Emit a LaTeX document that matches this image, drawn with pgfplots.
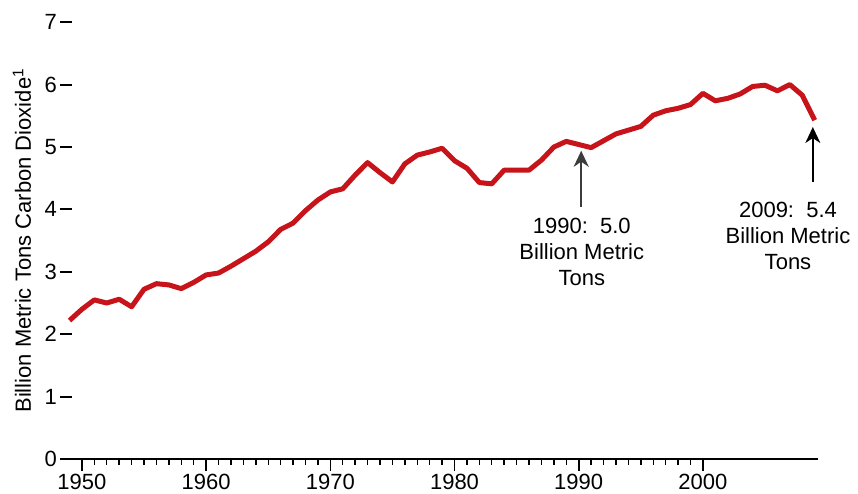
\documentclass[border=0pt]{standalone}
\usepackage{pgfplots}
\pgfplotsset{compat=1.18}
\usepackage{fontspec}
\setmainfont{Liberation Sans}
\usetikzlibrary{arrows.meta}
\definecolor{co2red}{RGB}{198,20,26}
\definecolor{arrowgray}{RGB}{60,60,60}
\newcommand{\tickfont}{\fontsize{22}{26}\selectfont}

\begin{document}
\begin{tikzpicture}
\begin{axis}[
  at={(0,0)}, anchor=south west,
  scale only axis, width=746.4pt, height=436.8pt,
  xmin=1949.2, xmax=2009.3, ymin=0, ymax=7,
  axis x line=bottom, axis y line=left,
  x axis line style={-, line width=2pt, shorten <=-10pt},
  y axis line style={draw=none},
  tick align=outside,
  xtick={1950,1960,...,2000}, minor x tick num=9,
  ytick={0,1,...,7},
  major tick length=12pt, minor tick length=6pt,
  xtick style={line width=1.6pt, black},
  minor x tick style={line width=1.4pt},
  ytick style={line width=2pt, black},
  yticklabel style={inner sep=3pt},
  xticklabel style={inner sep=3pt},
  /pgf/number format/assume math mode=true,
  xticklabel={\tickfont\pgfmathprintnumber[1000 sep={}]{\tick}},
  yticklabel={\tickfont\pgfmathprintnumber{\tick}},
  ylabel={Billion Metric Tons Carbon Dioxide\textsuperscript{1}},
  every axis y label/.style={at={(axis description cs:-0.067,0.5)}, rotate=90,
    anchor=center, font=\fontsize{22}{26}\selectfont},
  clip=false,
]
\addplot[co2red, line width=5pt, line join=round] coordinates {
(1949,2.22) (1950,2.40) (1951,2.55) (1952,2.50) (1953,2.56) (1954,2.44)
(1955,2.72) (1956,2.81) (1957,2.79) (1958,2.73) (1959,2.83) (1960,2.95)
(1961,2.98) (1962,3.09) (1963,3.21) (1964,3.33) (1965,3.48) (1966,3.68)
(1967,3.78) (1968,3.98) (1969,4.15) (1970,4.28) (1971,4.33) (1972,4.55)
(1973,4.75) (1974,4.59) (1975,4.44) (1976,4.73) (1977,4.87) (1978,4.92)
(1979,4.98) (1980,4.78) (1981,4.66) (1982,4.43) (1983,4.41) (1984,4.63)
(1985,4.63) (1986,4.63) (1987,4.79) (1988,5.00) (1989,5.09) (1990,5.04)
(1991,4.99) (1992,5.10) (1993,5.21) (1994,5.27) (1995,5.33) (1996,5.51)
(1997,5.58) (1998,5.62) (1999,5.68) (2000,5.86) (2001,5.74) (2002,5.78)
(2003,5.85) (2004,5.97) (2005,5.99) (2006,5.90) (2007,6.00) (2008,5.83)
(2009,5.43)
};
\draw[arrowgray, line width=2pt, -{Stealth[length=16pt, width=15pt, inset=5pt]}]
  (axis cs:1990.2,4.04) -- (axis cs:1990.2,4.94);
\draw[black, line width=1.5pt, -{Stealth[length=16pt, width=15pt, inset=5pt]}]
  (axis cs:2008.85,4.44) -- (axis cs:2008.85,5.32);
\node[align=center, font=\fontsize{22}{26}\selectfont] at (axis cs:1990.25,3.32)
  {1990:\ \ 5.0\\Billion Metric\\Tons};
\node[align=center, font=\fontsize{22}{26}\selectfont] at (axis cs:2006.85,3.57)
  {2009:\ \ 5.4\\Billion Metric\\Tons};
\end{axis}
\path[use as bounding box] (-72pt,-34pt) rectangle (786pt,459pt);
\end{tikzpicture}
\end{document}
